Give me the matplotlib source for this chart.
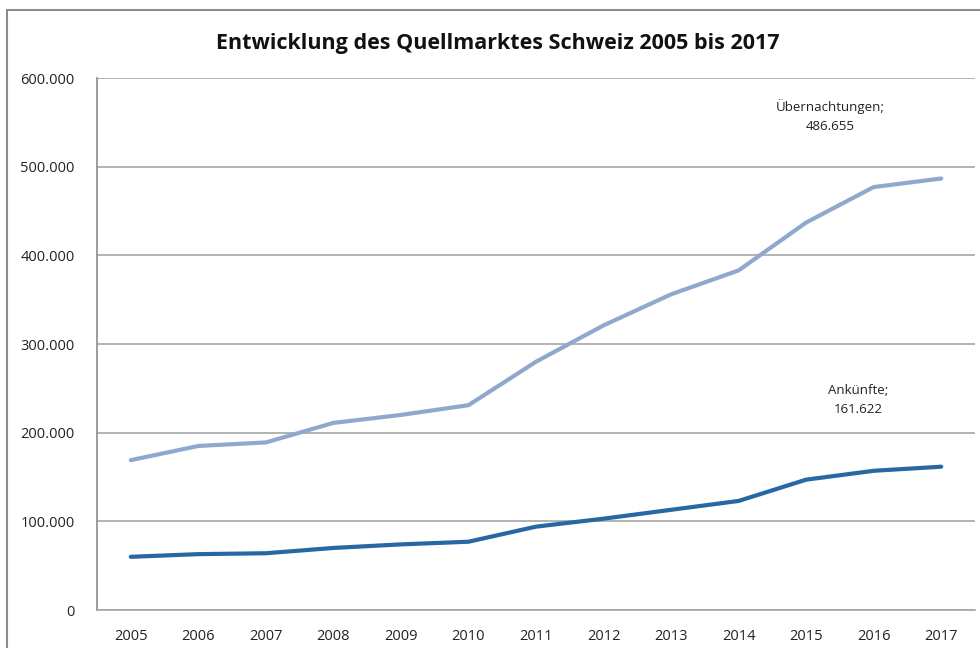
import matplotlib
matplotlib.use("Agg")
import matplotlib.pyplot as plt
from matplotlib.patches import Rectangle

years = ["2005", "2006", "2007", "2008", "2009", "2010", "2011", "2012", "2013", "2014", "2015", "2016", "2017"]
uebernachtungen = [169000, 185000, 189000, 211000, 220000, 231000, 280000, 321000, 356000, 383000, 437000, 477000, 486655]
ankuenfte = [60000, 63000, 64000, 70000, 74000, 77000, 94000, 103000, 113000, 123000, 147000, 157000, 161622]
yticks = [0, 100000, 200000, 300000, 400000, 500000, 600000]
ytick_labels = ["0", "100.000", "200.000", "300.000", "400.000", "500.000", "600.000"]
title = "Entwicklung des Quellmarktes Schweiz 2005 bis 2017"

plt.rcParams['font.family'] = ['Open Sans', 'DejaVu Sans']

W, H = 980, 648
fig = plt.figure(figsize=(W / 100, H / 100), dpi=100)
fig.patch.set_facecolor("white")

# outer chart frame
fig.add_artist(Rectangle((7 / W, -0.1), 1.2, 1 - 10 / H + 0.1, transform=fig.transFigure,
                         fill=False, edgecolor="#8c8c8c", linewidth=1.5))

ax = fig.add_axes([97 / W, 1 - 610 / H, (975 - 97) / W, (610 - 78) / H])
x = list(range(len(years)))
ax.plot(x, uebernachtungen, color="#8fa9ce", linewidth=3, solid_capstyle="round")
ax.plot(x, ankuenfte, color="#2767a3", linewidth=3, solid_capstyle="round")

ax.set_xlim(-0.5, len(years) - 0.5)
ax.set_ylim(0, 600000)
ax.set_yticks(yticks)
ax.set_yticklabels(ytick_labels, fontsize=10.5, color="#222222")
ax.set_xticks(x)
ax.set_xticklabels(years, fontsize=10.5, color="#222222")
ax.tick_params(axis="both", length=0)
ax.tick_params(axis="y", pad=16)
ax.tick_params(axis="x", pad=14)
ax.grid(axis="y", color="#a6a6a6", linewidth=1.2)
ax.set_axisbelow(True)
for s in ["top", "right"]:
    ax.spines[s].set_visible(False)
ax.spines["left"].set_color("#8c8c8c")
ax.spines["bottom"].set_color("#a6a6a6")
ax.spines["left"].set_linewidth(1.2)
ax.spines["bottom"].set_linewidth(1.2)

ax.annotate("Übernachtungen;\n486.655", xy=(x[-1], uebernachtungen[-1]), xytext=(830 / W, 1 - 116 / H),
            textcoords="figure fraction", ha="center", va="center", fontsize=9.5, color="#222222",
            linespacing=1.6)
ax.annotate("Ankünfte;\n161.622", xy=(x[-1], ankuenfte[-1]), xytext=(858 / W, 1 - 400 / H),
            textcoords="figure fraction", ha="center", va="center", fontsize=9.5, color="#222222",
            linespacing=1.6)

fig.text(498 / W, 1 - 43 / H, title, ha="center", va="center", fontsize=15.5, fontweight="bold",
         color="#111111")

fig.savefig("out.png", dpi=100)
